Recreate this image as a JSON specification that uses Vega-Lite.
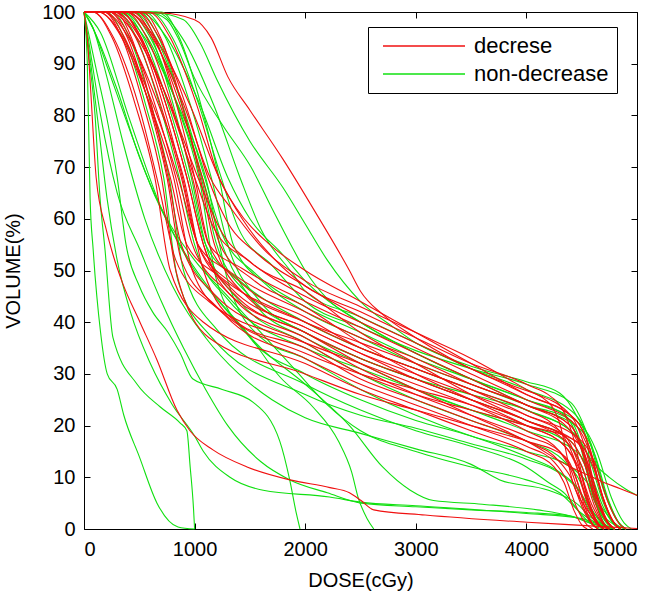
{"$schema":"https://vega.github.io/schema/vega-lite/v6.json","width":553,"height":517,"autosize":{"type":"none"},"padding":{"left":84,"top":12,"right":29,"bottom":70},"background":"white",
"config":{"view":{"stroke":"#000","strokeWidth":1},"font":"Liberation Sans","axis":{"domain":false,"grid":false,"tickColor":"#000","tickWidth":1,"tickSize":6,"offset":-6,"labelColor":"#000","labelFontSize":20,"labelFont":"Liberation Sans","titleFont":"Liberation Sans","titleFontSize":20,"titleFontWeight":"normal","titleColor":"#000"}},
"datasets":{"c":[
{"g":"non-decrease","id":"g1","d":0,"v":100},{"g":"non-decrease","id":"g1","d":30,"v":90},{"g":"non-decrease","id":"g1","d":55,"v":64},{"g":"non-decrease","id":"g1","d":83,"v":54},{"g":"non-decrease","id":"g1","d":150,"v":38},{"g":"non-decrease","id":"g1","d":210,"v":30},{"g":"non-decrease","id":"g1","d":300,"v":27},{"g":"non-decrease","id":"g1","d":360,"v":22},{"g":"non-decrease","id":"g1","d":500,"v":14},{"g":"non-decrease","id":"g1","d":660,"v":5},{"g":"non-decrease","id":"g1","d":850,"v":0.4},{"g":"non-decrease","id":"g1","d":1000,"v":0},
{"g":"non-decrease","id":"g2","d":0,"v":100},{"g":"non-decrease","id":"g2","d":40,"v":92},{"g":"non-decrease","id":"g2","d":100,"v":80},{"g":"non-decrease","id":"g2","d":145,"v":64},{"g":"non-decrease","id":"g2","d":190,"v":54},{"g":"non-decrease","id":"g2","d":262,"v":37},{"g":"non-decrease","id":"g2","d":480,"v":28},{"g":"non-decrease","id":"g2","d":690,"v":23.6},{"g":"non-decrease","id":"g2","d":870,"v":20.5},{"g":"non-decrease","id":"g2","d":930,"v":19},{"g":"non-decrease","id":"g2","d":960,"v":12},{"g":"non-decrease","id":"g2","d":990,"v":4},{"g":"non-decrease","id":"g2","d":1000,"v":0},
{"g":"non-decrease","id":"g3","d":0,"v":100},{"g":"non-decrease","id":"g3","d":40,"v":96},{"g":"non-decrease","id":"g3","d":120,"v":88},{"g":"non-decrease","id":"g3","d":220,"v":78},{"g":"non-decrease","id":"g3","d":300,"v":68},{"g":"non-decrease","id":"g3","d":380,"v":55},{"g":"non-decrease","id":"g3","d":500,"v":47},{"g":"non-decrease","id":"g3","d":620,"v":42},{"g":"non-decrease","id":"g3","d":760,"v":38},{"g":"non-decrease","id":"g3","d":870,"v":34},{"g":"non-decrease","id":"g3","d":985,"v":29},{"g":"non-decrease","id":"g3","d":1250,"v":27},{"g":"non-decrease","id":"g3","d":1530,"v":24.5},{"g":"non-decrease","id":"g3","d":1770,"v":17},{"g":"non-decrease","id":"g3","d":1860,"v":9.5},{"g":"non-decrease","id":"g3","d":1920,"v":3},{"g":"non-decrease","id":"g3","d":1953,"v":0},
{"g":"non-decrease","id":"g4","d":0,"v":100},{"g":"non-decrease","id":"g4","d":80,"v":97},{"g":"non-decrease","id":"g4","d":200,"v":90},{"g":"non-decrease","id":"g4","d":400,"v":78},{"g":"non-decrease","id":"g4","d":650,"v":64},{"g":"non-decrease","id":"g4","d":895,"v":54},{"g":"non-decrease","id":"g4","d":1166,"v":45.6},{"g":"non-decrease","id":"g4","d":1474,"v":38},{"g":"non-decrease","id":"g4","d":1772,"v":29.4},{"g":"non-decrease","id":"g4","d":2070,"v":23.6},{"g":"non-decrease","id":"g4","d":2300,"v":17},{"g":"non-decrease","id":"g4","d":2420,"v":11},{"g":"non-decrease","id":"g4","d":2480,"v":6},{"g":"non-decrease","id":"g4","d":2560,"v":2},{"g":"non-decrease","id":"g4","d":2620,"v":0},
{"g":"non-decrease","id":"g6","d":0,"v":100},{"g":"non-decrease","id":"g6","d":350,"v":100},{"g":"non-decrease","id":"g6","d":538,"v":95},{"g":"non-decrease","id":"g6","d":763,"v":82},{"g":"non-decrease","id":"g6","d":950,"v":68},{"g":"non-decrease","id":"g6","d":1100,"v":55},{"g":"non-decrease","id":"g6","d":1400,"v":48.2},{"g":"non-decrease","id":"g6","d":2000,"v":40},{"g":"non-decrease","id":"g6","d":2500,"v":35},{"g":"non-decrease","id":"g6","d":3000,"v":31},{"g":"non-decrease","id":"g6","d":3500,"v":27},{"g":"non-decrease","id":"g6","d":4000,"v":23},{"g":"non-decrease","id":"g6","d":4450,"v":18},{"g":"non-decrease","id":"g6","d":4570,"v":13.5},{"g":"non-decrease","id":"g6","d":4690,"v":5.4},{"g":"non-decrease","id":"g6","d":4790,"v":1.1},{"g":"non-decrease","id":"g6","d":4850,"v":0},
{"g":"non-decrease","id":"g7","d":0,"v":100},{"g":"non-decrease","id":"g7","d":450,"v":100},{"g":"non-decrease","id":"g7","d":650,"v":95},{"g":"non-decrease","id":"g7","d":890,"v":82},{"g":"non-decrease","id":"g7","d":1090,"v":68},{"g":"non-decrease","id":"g7","d":1250,"v":57},{"g":"non-decrease","id":"g7","d":1550,"v":49.4},{"g":"non-decrease","id":"g7","d":2000,"v":43},{"g":"non-decrease","id":"g7","d":2500,"v":38},{"g":"non-decrease","id":"g7","d":3000,"v":33},{"g":"non-decrease","id":"g7","d":3500,"v":29},{"g":"non-decrease","id":"g7","d":4000,"v":25},{"g":"non-decrease","id":"g7","d":4500,"v":20},{"g":"non-decrease","id":"g7","d":4635,"v":15},{"g":"non-decrease","id":"g7","d":4770,"v":6},{"g":"non-decrease","id":"g7","d":4883,"v":1.2},{"g":"non-decrease","id":"g7","d":4950,"v":0},
{"g":"non-decrease","id":"g8","d":0,"v":100},{"g":"non-decrease","id":"g8","d":550,"v":100},{"g":"non-decrease","id":"g8","d":738,"v":95},{"g":"non-decrease","id":"g8","d":963,"v":82},{"g":"non-decrease","id":"g8","d":1150,"v":68},{"g":"non-decrease","id":"g8","d":1300,"v":55},{"g":"non-decrease","id":"g8","d":1600,"v":43.8},{"g":"non-decrease","id":"g8","d":2000,"v":38},{"g":"non-decrease","id":"g8","d":2500,"v":33},{"g":"non-decrease","id":"g8","d":3000,"v":29},{"g":"non-decrease","id":"g8","d":3500,"v":25},{"g":"non-decrease","id":"g8","d":4000,"v":21},{"g":"non-decrease","id":"g8","d":4400,"v":17},{"g":"non-decrease","id":"g8","d":4520,"v":12.8},{"g":"non-decrease","id":"g8","d":4640,"v":5.1},{"g":"non-decrease","id":"g8","d":4740,"v":1},{"g":"non-decrease","id":"g8","d":4800,"v":0},
{"g":"non-decrease","id":"g9","d":0,"v":100},{"g":"non-decrease","id":"g9","d":300,"v":100},{"g":"non-decrease","id":"g9","d":475,"v":95},{"g":"non-decrease","id":"g9","d":685,"v":82},{"g":"non-decrease","id":"g9","d":860,"v":68},{"g":"non-decrease","id":"g9","d":1000,"v":55},{"g":"non-decrease","id":"g9","d":1300,"v":44.4},{"g":"non-decrease","id":"g9","d":2000,"v":35},{"g":"non-decrease","id":"g9","d":2500,"v":31},{"g":"non-decrease","id":"g9","d":3000,"v":27},{"g":"non-decrease","id":"g9","d":3500,"v":23},{"g":"non-decrease","id":"g9","d":4000,"v":19},{"g":"non-decrease","id":"g9","d":4450,"v":15},{"g":"non-decrease","id":"g9","d":4570,"v":11.3},{"g":"non-decrease","id":"g9","d":4690,"v":4.5},{"g":"non-decrease","id":"g9","d":4790,"v":0.9},{"g":"non-decrease","id":"g9","d":4850,"v":0},
{"g":"non-decrease","id":"g10","d":0,"v":100},{"g":"non-decrease","id":"g10","d":600,"v":100},{"g":"non-decrease","id":"g10","d":800,"v":95},{"g":"non-decrease","id":"g10","d":1040,"v":82},{"g":"non-decrease","id":"g10","d":1240,"v":68},{"g":"non-decrease","id":"g10","d":1400,"v":58},{"g":"non-decrease","id":"g10","d":1700,"v":51},{"g":"non-decrease","id":"g10","d":2000,"v":44},{"g":"non-decrease","id":"g10","d":2500,"v":39},{"g":"non-decrease","id":"g10","d":3000,"v":34.5},{"g":"non-decrease","id":"g10","d":3500,"v":31},{"g":"non-decrease","id":"g10","d":4000,"v":28},{"g":"non-decrease","id":"g10","d":4400,"v":24.5},{"g":"non-decrease","id":"g10","d":4550,"v":18.4},{"g":"non-decrease","id":"g10","d":4700,"v":7.4},{"g":"non-decrease","id":"g10","d":4825,"v":1.5},{"g":"non-decrease","id":"g10","d":4900,"v":0},
{"g":"non-decrease","id":"g11","d":0,"v":100},{"g":"non-decrease","id":"g11","d":400,"v":100},{"g":"non-decrease","id":"g11","d":600,"v":95},{"g":"non-decrease","id":"g11","d":840,"v":82},{"g":"non-decrease","id":"g11","d":1040,"v":68},{"g":"non-decrease","id":"g11","d":1200,"v":48},{"g":"non-decrease","id":"g11","d":1500,"v":37},{"g":"non-decrease","id":"g11","d":2000,"v":30},{"g":"non-decrease","id":"g11","d":2500,"v":25},{"g":"non-decrease","id":"g11","d":3000,"v":21},{"g":"non-decrease","id":"g11","d":3500,"v":18},{"g":"non-decrease","id":"g11","d":4000,"v":14},{"g":"non-decrease","id":"g11","d":4300,"v":11},{"g":"non-decrease","id":"g11","d":4450,"v":8.3},{"g":"non-decrease","id":"g11","d":4600,"v":3.3},{"g":"non-decrease","id":"g11","d":4725,"v":0.7},{"g":"non-decrease","id":"g11","d":4800,"v":0},
{"g":"non-decrease","id":"g12","d":0,"v":100},{"g":"non-decrease","id":"g12","d":500,"v":100},{"g":"non-decrease","id":"g12","d":750,"v":95},{"g":"non-decrease","id":"g12","d":1050,"v":82},{"g":"non-decrease","id":"g12","d":1300,"v":68},{"g":"non-decrease","id":"g12","d":1500,"v":60},{"g":"non-decrease","id":"g12","d":1800,"v":53},{"g":"non-decrease","id":"g12","d":2000,"v":48},{"g":"non-decrease","id":"g12","d":2500,"v":40},{"g":"non-decrease","id":"g12","d":3000,"v":34},{"g":"non-decrease","id":"g12","d":3500,"v":29},{"g":"non-decrease","id":"g12","d":4000,"v":24},{"g":"non-decrease","id":"g12","d":4500,"v":19},{"g":"non-decrease","id":"g12","d":4620,"v":14.3},{"g":"non-decrease","id":"g12","d":4740,"v":5.7},{"g":"non-decrease","id":"g12","d":4840,"v":1.1},{"g":"non-decrease","id":"g12","d":4900,"v":0},
{"g":"non-decrease","id":"g13","d":0,"v":100},{"g":"non-decrease","id":"g13","d":250,"v":100},{"g":"non-decrease","id":"g13","d":413,"v":95},{"g":"non-decrease","id":"g13","d":608,"v":82},{"g":"non-decrease","id":"g13","d":770,"v":68},{"g":"non-decrease","id":"g13","d":900,"v":50},{"g":"non-decrease","id":"g13","d":1200,"v":38.6},{"g":"non-decrease","id":"g13","d":2000,"v":28},{"g":"non-decrease","id":"g13","d":2500,"v":23},{"g":"non-decrease","id":"g13","d":3000,"v":19},{"g":"non-decrease","id":"g13","d":3500,"v":16},{"g":"non-decrease","id":"g13","d":4000,"v":12},{"g":"non-decrease","id":"g13","d":4200,"v":9},{"g":"non-decrease","id":"g13","d":4350,"v":6.8},{"g":"non-decrease","id":"g13","d":4500,"v":2.7},{"g":"non-decrease","id":"g13","d":4625,"v":0.5},{"g":"non-decrease","id":"g13","d":4700,"v":0},
{"g":"non-decrease","id":"g14","d":0,"v":100},{"g":"non-decrease","id":"g14","d":700,"v":100},{"g":"non-decrease","id":"g14","d":863,"v":95},{"g":"non-decrease","id":"g14","d":1058,"v":82},{"g":"non-decrease","id":"g14","d":1220,"v":68},{"g":"non-decrease","id":"g14","d":1350,"v":55},{"g":"non-decrease","id":"g14","d":1650,"v":47.2},{"g":"non-decrease","id":"g14","d":2000,"v":42},{"g":"non-decrease","id":"g14","d":2500,"v":37},{"g":"non-decrease","id":"g14","d":3000,"v":32},{"g":"non-decrease","id":"g14","d":3500,"v":28},{"g":"non-decrease","id":"g14","d":4000,"v":24},{"g":"non-decrease","id":"g14","d":4400,"v":21},{"g":"non-decrease","id":"g14","d":4505,"v":15.8},{"g":"non-decrease","id":"g14","d":4610,"v":6.3},{"g":"non-decrease","id":"g14","d":4698,"v":1.3},{"g":"non-decrease","id":"g14","d":4750,"v":0},
{"g":"non-decrease","id":"g15","d":0,"v":100},{"g":"non-decrease","id":"g15","d":450,"v":100},{"g":"non-decrease","id":"g15","d":613,"v":95},{"g":"non-decrease","id":"g15","d":808,"v":82},{"g":"non-decrease","id":"g15","d":970,"v":68},{"g":"non-decrease","id":"g15","d":1100,"v":55},{"g":"non-decrease","id":"g15","d":1400,"v":44.2},{"g":"non-decrease","id":"g15","d":2000,"v":36},{"g":"non-decrease","id":"g15","d":2500,"v":30},{"g":"non-decrease","id":"g15","d":3000,"v":25},{"g":"non-decrease","id":"g15","d":3500,"v":21},{"g":"non-decrease","id":"g15","d":4000,"v":17},{"g":"non-decrease","id":"g15","d":4350,"v":13},{"g":"non-decrease","id":"g15","d":4470,"v":9.8},{"g":"non-decrease","id":"g15","d":4590,"v":3.9},{"g":"non-decrease","id":"g15","d":4690,"v":0.8},{"g":"non-decrease","id":"g15","d":4750,"v":0},
{"g":"non-decrease","id":"g16","d":0,"v":100},{"g":"non-decrease","id":"g16","d":300,"v":100},{"g":"non-decrease","id":"g16","d":550,"v":95},{"g":"non-decrease","id":"g16","d":850,"v":82},{"g":"non-decrease","id":"g16","d":1100,"v":68},{"g":"non-decrease","id":"g16","d":1300,"v":48},{"g":"non-decrease","id":"g16","d":1600,"v":37},{"g":"non-decrease","id":"g16","d":2000,"v":33},{"g":"non-decrease","id":"g16","d":2500,"v":27},{"g":"non-decrease","id":"g16","d":3000,"v":22},{"g":"non-decrease","id":"g16","d":3500,"v":18},{"g":"non-decrease","id":"g16","d":4000,"v":15},{"g":"non-decrease","id":"g16","d":4400,"v":12},{"g":"non-decrease","id":"g16","d":4550,"v":9},{"g":"non-decrease","id":"g16","d":4700,"v":3.6},{"g":"non-decrease","id":"g16","d":4825,"v":0.7},{"g":"non-decrease","id":"g16","d":4900,"v":0},
{"g":"non-decrease","id":"g17","d":0,"v":100},{"g":"non-decrease","id":"g17","d":500,"v":100},{"g":"non-decrease","id":"g17","d":675,"v":95},{"g":"non-decrease","id":"g17","d":885,"v":82},{"g":"non-decrease","id":"g17","d":1060,"v":68},{"g":"non-decrease","id":"g17","d":1200,"v":55},{"g":"non-decrease","id":"g17","d":1500,"v":45},{"g":"non-decrease","id":"g17","d":2000,"v":38},{"g":"non-decrease","id":"g17","d":2500,"v":33},{"g":"non-decrease","id":"g17","d":3000,"v":29},{"g":"non-decrease","id":"g17","d":3500,"v":26},{"g":"non-decrease","id":"g17","d":4000,"v":23},{"g":"non-decrease","id":"g17","d":4450,"v":18},{"g":"non-decrease","id":"g17","d":4600,"v":13},{"g":"non-decrease","id":"g17","d":4750,"v":10},{"g":"non-decrease","id":"g17","d":4900,"v":7.7},{"g":"non-decrease","id":"g17","d":5000,"v":6.5},
{"g":"non-decrease","id":"g18","d":0,"v":100},{"g":"non-decrease","id":"g18","d":650,"v":99.8},{"g":"non-decrease","id":"g18","d":900,"v":98.5},{"g":"non-decrease","id":"g18","d":1050,"v":94},{"g":"non-decrease","id":"g18","d":1200,"v":87},{"g":"non-decrease","id":"g18","d":1500,"v":75},{"g":"non-decrease","id":"g18","d":1800,"v":66},{"g":"non-decrease","id":"g18","d":2000,"v":59},{"g":"non-decrease","id":"g18","d":2200,"v":52},{"g":"non-decrease","id":"g18","d":2500,"v":44},{"g":"non-decrease","id":"g18","d":2800,"v":39},{"g":"non-decrease","id":"g18","d":3000,"v":36},{"g":"non-decrease","id":"g18","d":3500,"v":31.5},{"g":"non-decrease","id":"g18","d":4000,"v":28.5},{"g":"non-decrease","id":"g18","d":4300,"v":26.3},{"g":"non-decrease","id":"g18","d":4450,"v":22},{"g":"non-decrease","id":"g18","d":4548,"v":17},{"g":"non-decrease","id":"g18","d":4602,"v":7.5},{"g":"non-decrease","id":"g18","d":4700,"v":2.5},{"g":"non-decrease","id":"g18","d":4783,"v":1},{"g":"non-decrease","id":"g18","d":4900,"v":0},
{"g":"non-decrease","id":"g19","d":0,"v":100},{"g":"non-decrease","id":"g19","d":100,"v":96},{"g":"non-decrease","id":"g19","d":300,"v":85},{"g":"non-decrease","id":"g19","d":500,"v":72},{"g":"non-decrease","id":"g19","d":700,"v":62},{"g":"non-decrease","id":"g19","d":1000,"v":52},{"g":"non-decrease","id":"g19","d":1300,"v":45},{"g":"non-decrease","id":"g19","d":1600,"v":38},{"g":"non-decrease","id":"g19","d":1900,"v":31},{"g":"non-decrease","id":"g19","d":2200,"v":24},{"g":"non-decrease","id":"g19","d":2500,"v":19},{"g":"non-decrease","id":"g19","d":3000,"v":15},{"g":"non-decrease","id":"g19","d":3500,"v":12},{"g":"non-decrease","id":"g19","d":4000,"v":9.5},{"g":"non-decrease","id":"g19","d":4300,"v":7},{"g":"non-decrease","id":"g19","d":4500,"v":3},{"g":"non-decrease","id":"g19","d":4700,"v":0.5},{"g":"non-decrease","id":"g19","d":4800,"v":0},
{"g":"non-decrease","id":"g21","d":0,"v":100},{"g":"non-decrease","id":"g21","d":50,"v":92},{"g":"non-decrease","id":"g21","d":130,"v":78},{"g":"non-decrease","id":"g21","d":208,"v":64},{"g":"non-decrease","id":"g21","d":300,"v":52},{"g":"non-decrease","id":"g21","d":420,"v":42},{"g":"non-decrease","id":"g21","d":600,"v":32},{"g":"non-decrease","id":"g21","d":800,"v":24},{"g":"non-decrease","id":"g21","d":1000,"v":18},{"g":"non-decrease","id":"g21","d":1080,"v":15},{"g":"non-decrease","id":"g21","d":1320,"v":10},{"g":"non-decrease","id":"g21","d":1620,"v":7.5},{"g":"non-decrease","id":"g21","d":2220,"v":6.2},{"g":"non-decrease","id":"g21","d":2500,"v":5.2},{"g":"non-decrease","id":"g21","d":3000,"v":4.5},{"g":"non-decrease","id":"g21","d":4000,"v":3},{"g":"non-decrease","id":"g21","d":4500,"v":2},{"g":"non-decrease","id":"g21","d":4700,"v":0.5},{"g":"non-decrease","id":"g21","d":4800,"v":0},
{"g":"non-decrease","id":"g23","d":0,"v":100},{"g":"non-decrease","id":"g23","d":60,"v":92},{"g":"non-decrease","id":"g23","d":150,"v":80},{"g":"non-decrease","id":"g23","d":300,"v":65},{"g":"non-decrease","id":"g23","d":506,"v":54},{"g":"non-decrease","id":"g23","d":700,"v":44},{"g":"non-decrease","id":"g23","d":900,"v":35},{"g":"non-decrease","id":"g23","d":1100,"v":27},{"g":"non-decrease","id":"g23","d":1300,"v":20},{"g":"non-decrease","id":"g23","d":1600,"v":13},{"g":"non-decrease","id":"g23","d":1862,"v":9.5},{"g":"non-decrease","id":"g23","d":2200,"v":7},{"g":"non-decrease","id":"g23","d":2505,"v":5},{"g":"non-decrease","id":"g23","d":3000,"v":4.3},{"g":"non-decrease","id":"g23","d":3500,"v":3.7},{"g":"non-decrease","id":"g23","d":4000,"v":3.2},{"g":"non-decrease","id":"g23","d":4400,"v":2.5},{"g":"non-decrease","id":"g23","d":4600,"v":1},{"g":"non-decrease","id":"g23","d":4800,"v":0},
{"g":"non-decrease","id":"g24","d":0,"v":100},{"g":"non-decrease","id":"g24","d":200,"v":100},{"g":"non-decrease","id":"g24","d":363,"v":95},{"g":"non-decrease","id":"g24","d":558,"v":82},{"g":"non-decrease","id":"g24","d":720,"v":68},{"g":"non-decrease","id":"g24","d":850,"v":48},{"g":"non-decrease","id":"g24","d":1150,"v":37.2},{"g":"non-decrease","id":"g24","d":2000,"v":26},{"g":"non-decrease","id":"g24","d":2500,"v":22},{"g":"non-decrease","id":"g24","d":3000,"v":19.5},{"g":"non-decrease","id":"g24","d":3500,"v":16.5},{"g":"non-decrease","id":"g24","d":4000,"v":13.5},{"g":"non-decrease","id":"g24","d":4350,"v":10},{"g":"non-decrease","id":"g24","d":4470,"v":7.5},{"g":"non-decrease","id":"g24","d":4590,"v":3},{"g":"non-decrease","id":"g24","d":4690,"v":0.6},{"g":"non-decrease","id":"g24","d":4750,"v":0},
{"g":"non-decrease","id":"g25","d":0,"v":100},{"g":"non-decrease","id":"g25","d":80,"v":97},{"g":"non-decrease","id":"g25","d":200,"v":88},{"g":"non-decrease","id":"g25","d":350,"v":75},{"g":"non-decrease","id":"g25","d":550,"v":60},{"g":"non-decrease","id":"g25","d":800,"v":47},{"g":"non-decrease","id":"g25","d":1100,"v":37},{"g":"non-decrease","id":"g25","d":1400,"v":30},{"g":"non-decrease","id":"g25","d":1700,"v":25},{"g":"non-decrease","id":"g25","d":2000,"v":21.5},{"g":"non-decrease","id":"g25","d":2500,"v":18.5},{"g":"non-decrease","id":"g25","d":3000,"v":15.5},{"g":"non-decrease","id":"g25","d":3500,"v":12.5},{"g":"non-decrease","id":"g25","d":3760,"v":9.5},{"g":"non-decrease","id":"g25","d":4200,"v":7.5},{"g":"non-decrease","id":"g25","d":4450,"v":5},{"g":"non-decrease","id":"g25","d":4600,"v":2},{"g":"non-decrease","id":"g25","d":4800,"v":0},
{"g":"non-decrease","id":"g26","d":0,"v":100},{"g":"non-decrease","id":"g26","d":150,"v":96},{"g":"non-decrease","id":"g26","d":400,"v":80},{"g":"non-decrease","id":"g26","d":700,"v":62},{"g":"non-decrease","id":"g26","d":1000,"v":50},{"g":"non-decrease","id":"g26","d":1300,"v":42},{"g":"non-decrease","id":"g26","d":1600,"v":35},{"g":"non-decrease","id":"g26","d":2000,"v":28},{"g":"non-decrease","id":"g26","d":2400,"v":20},{"g":"non-decrease","id":"g26","d":2700,"v":12},{"g":"non-decrease","id":"g26","d":2950,"v":7.5},{"g":"non-decrease","id":"g26","d":3160,"v":5.5},{"g":"non-decrease","id":"g26","d":3600,"v":4.8},{"g":"non-decrease","id":"g26","d":4100,"v":3.7},{"g":"non-decrease","id":"g26","d":4400,"v":2.5},{"g":"non-decrease","id":"g26","d":4600,"v":1},{"g":"non-decrease","id":"g26","d":4800,"v":0},
{"g":"non-decrease","id":"g28","d":0,"v":100},{"g":"non-decrease","id":"g28","d":650,"v":100},{"g":"non-decrease","id":"g28","d":888,"v":95},{"g":"non-decrease","id":"g28","d":1173,"v":82},{"g":"non-decrease","id":"g28","d":1410,"v":68},{"g":"non-decrease","id":"g28","d":1600,"v":58},{"g":"non-decrease","id":"g28","d":1900,"v":49},{"g":"non-decrease","id":"g28","d":2000,"v":46},{"g":"non-decrease","id":"g28","d":2500,"v":41},{"g":"non-decrease","id":"g28","d":3000,"v":36},{"g":"non-decrease","id":"g28","d":3500,"v":31},{"g":"non-decrease","id":"g28","d":4000,"v":27},{"g":"non-decrease","id":"g28","d":4450,"v":22},{"g":"non-decrease","id":"g28","d":4585,"v":16.5},{"g":"non-decrease","id":"g28","d":4720,"v":6.6},{"g":"non-decrease","id":"g28","d":4833,"v":1.3},{"g":"non-decrease","id":"g28","d":4900,"v":0},
{"g":"non-decrease","id":"g29","d":0,"v":100},{"g":"non-decrease","id":"g29","d":350,"v":100},{"g":"non-decrease","id":"g29","d":575,"v":95},{"g":"non-decrease","id":"g29","d":845,"v":82},{"g":"non-decrease","id":"g29","d":1070,"v":68},{"g":"non-decrease","id":"g29","d":1250,"v":55},{"g":"non-decrease","id":"g29","d":1550,"v":43.4},{"g":"non-decrease","id":"g29","d":2000,"v":37},{"g":"non-decrease","id":"g29","d":2500,"v":32},{"g":"non-decrease","id":"g29","d":3000,"v":27},{"g":"non-decrease","id":"g29","d":3500,"v":23},{"g":"non-decrease","id":"g29","d":4000,"v":20},{"g":"non-decrease","id":"g29","d":4350,"v":17},{"g":"non-decrease","id":"g29","d":4485,"v":12.8},{"g":"non-decrease","id":"g29","d":4620,"v":5.1},{"g":"non-decrease","id":"g29","d":4733,"v":1},{"g":"non-decrease","id":"g29","d":4800,"v":0},
{"g":"non-decrease","id":"g30","d":0,"v":100},{"g":"non-decrease","id":"g30","d":600,"v":99.8},{"g":"non-decrease","id":"g30","d":750,"v":98.5},{"g":"non-decrease","id":"g30","d":850,"v":95},{"g":"non-decrease","id":"g30","d":995,"v":87.4},{"g":"non-decrease","id":"g30","d":1266,"v":77.7},{"g":"non-decrease","id":"g30","d":1510,"v":70},{"g":"non-decrease","id":"g30","d":1700,"v":62},{"g":"non-decrease","id":"g30","d":1870,"v":55},{"g":"non-decrease","id":"g30","d":2000,"v":50},{"g":"non-decrease","id":"g30","d":2200,"v":44.5},{"g":"non-decrease","id":"g30","d":2500,"v":40},{"g":"non-decrease","id":"g30","d":3000,"v":34},{"g":"non-decrease","id":"g30","d":3500,"v":29},{"g":"non-decrease","id":"g30","d":4000,"v":25},{"g":"non-decrease","id":"g30","d":4350,"v":22},{"g":"non-decrease","id":"g30","d":4480,"v":16.5},{"g":"non-decrease","id":"g30","d":4600,"v":6.6},{"g":"non-decrease","id":"g30","d":4720,"v":1.3},{"g":"non-decrease","id":"g30","d":4800,"v":0},
{"g":"decrese","id":"r1","d":0,"v":100},{"g":"decrese","id":"r1","d":30,"v":95},{"g":"decrese","id":"r1","d":60,"v":85},{"g":"decrese","id":"r1","d":110,"v":68},{"g":"decrese","id":"r1","d":200,"v":58},{"g":"decrese","id":"r1","d":263,"v":53},{"g":"decrese","id":"r1","d":350,"v":47.5},{"g":"decrese","id":"r1","d":506,"v":40},{"g":"decrese","id":"r1","d":660,"v":32.7},{"g":"decrese","id":"r1","d":840,"v":23},{"g":"decrese","id":"r1","d":958,"v":19},{"g":"decrese","id":"r1","d":1166,"v":15.3},{"g":"decrese","id":"r1","d":1474,"v":12},{"g":"decrese","id":"r1","d":1862,"v":9.5},{"g":"decrese","id":"r1","d":2224,"v":8},{"g":"decrese","id":"r1","d":2400,"v":7},{"g":"decrese","id":"r1","d":2505,"v":5.5},{"g":"decrese","id":"r1","d":2620,"v":3.7},{"g":"decrese","id":"r1","d":3084,"v":2.7},{"g":"decrese","id":"r1","d":4010,"v":1.3},{"g":"decrese","id":"r1","d":4500,"v":0.7},{"g":"decrese","id":"r1","d":5000,"v":0.1},
{"g":"decrese","id":"r2","d":0,"v":100},{"g":"decrese","id":"r2","d":700,"v":99.8},{"g":"decrese","id":"r2","d":1000,"v":98.5},{"g":"decrese","id":"r2","d":1150,"v":95},{"g":"decrese","id":"r2","d":1300,"v":87.5},{"g":"decrese","id":"r2","d":1500,"v":81},{"g":"decrese","id":"r2","d":1800,"v":71.5},{"g":"decrese","id":"r2","d":2100,"v":61},{"g":"decrese","id":"r2","d":2400,"v":50},{"g":"decrese","id":"r2","d":2500,"v":46},{"g":"decrese","id":"r2","d":2700,"v":41.5},{"g":"decrese","id":"r2","d":3000,"v":37},{"g":"decrese","id":"r2","d":3600,"v":30},{"g":"decrese","id":"r2","d":3900,"v":27.5},{"g":"decrese","id":"r2","d":4200,"v":24.5},{"g":"decrese","id":"r2","d":4300,"v":20.5},{"g":"decrese","id":"r2","d":4420,"v":9},{"g":"decrese","id":"r2","d":4550,"v":3.7},{"g":"decrese","id":"r2","d":4670,"v":0.5},{"g":"decrese","id":"r2","d":4750,"v":0},
{"g":"decrese","id":"r3","d":0,"v":100},{"g":"decrese","id":"r3","d":80,"v":100},{"g":"decrese","id":"r3","d":268,"v":95},{"g":"decrese","id":"r3","d":493,"v":82},{"g":"decrese","id":"r3","d":680,"v":66},{"g":"decrese","id":"r3","d":830,"v":52},{"g":"decrese","id":"r3","d":1130,"v":44},{"g":"decrese","id":"r3","d":2000,"v":36},{"g":"decrese","id":"r3","d":2500,"v":32},{"g":"decrese","id":"r3","d":3000,"v":28},{"g":"decrese","id":"r3","d":3500,"v":24},{"g":"decrese","id":"r3","d":4000,"v":19},{"g":"decrese","id":"r3","d":4300,"v":15},{"g":"decrese","id":"r3","d":4405,"v":11.3},{"g":"decrese","id":"r3","d":4510,"v":4.5},{"g":"decrese","id":"r3","d":4598,"v":0.9},{"g":"decrese","id":"r3","d":4650,"v":0},
{"g":"decrese","id":"r4","d":0,"v":100},{"g":"decrese","id":"r4","d":180,"v":100},{"g":"decrese","id":"r4","d":368,"v":95},{"g":"decrese","id":"r4","d":593,"v":82},{"g":"decrese","id":"r4","d":780,"v":68},{"g":"decrese","id":"r4","d":930,"v":55},{"g":"decrese","id":"r4","d":1230,"v":48.8},{"g":"decrese","id":"r4","d":2000,"v":40},{"g":"decrese","id":"r4","d":2500,"v":35},{"g":"decrese","id":"r4","d":3000,"v":31},{"g":"decrese","id":"r4","d":3500,"v":27},{"g":"decrese","id":"r4","d":4000,"v":22},{"g":"decrese","id":"r4","d":4350,"v":18},{"g":"decrese","id":"r4","d":4455,"v":13.5},{"g":"decrese","id":"r4","d":4560,"v":5.4},{"g":"decrese","id":"r4","d":4648,"v":1.1},{"g":"decrese","id":"r4","d":4700,"v":0},
{"g":"decrese","id":"r5","d":0,"v":100},{"g":"decrese","id":"r5","d":230,"v":100},{"g":"decrese","id":"r5","d":418,"v":95},{"g":"decrese","id":"r5","d":643,"v":82},{"g":"decrese","id":"r5","d":830,"v":68},{"g":"decrese","id":"r5","d":980,"v":55},{"g":"decrese","id":"r5","d":1280,"v":46.2},{"g":"decrese","id":"r5","d":2000,"v":38},{"g":"decrese","id":"r5","d":2500,"v":33},{"g":"decrese","id":"r5","d":3000,"v":29},{"g":"decrese","id":"r5","d":3500,"v":25},{"g":"decrese","id":"r5","d":4000,"v":21},{"g":"decrese","id":"r5","d":4400,"v":16},{"g":"decrese","id":"r5","d":4505,"v":12},{"g":"decrese","id":"r5","d":4610,"v":4.8},{"g":"decrese","id":"r5","d":4698,"v":1},{"g":"decrese","id":"r5","d":4750,"v":0},
{"g":"decrese","id":"r6","d":0,"v":100},{"g":"decrese","id":"r6","d":280,"v":100},{"g":"decrese","id":"r6","d":468,"v":95},{"g":"decrese","id":"r6","d":693,"v":82},{"g":"decrese","id":"r6","d":880,"v":68},{"g":"decrese","id":"r6","d":1030,"v":55},{"g":"decrese","id":"r6","d":1330,"v":49.6},{"g":"decrese","id":"r6","d":2000,"v":42},{"g":"decrese","id":"r6","d":2500,"v":37},{"g":"decrese","id":"r6","d":3000,"v":33},{"g":"decrese","id":"r6","d":3500,"v":28},{"g":"decrese","id":"r6","d":4000,"v":24},{"g":"decrese","id":"r6","d":4400,"v":19},{"g":"decrese","id":"r6","d":4520,"v":14.3},{"g":"decrese","id":"r6","d":4640,"v":5.7},{"g":"decrese","id":"r6","d":4740,"v":1.1},{"g":"decrese","id":"r6","d":4800,"v":0},
{"g":"decrese","id":"r7","d":0,"v":100},{"g":"decrese","id":"r7","d":330,"v":100},{"g":"decrese","id":"r7","d":518,"v":95},{"g":"decrese","id":"r7","d":743,"v":82},{"g":"decrese","id":"r7","d":930,"v":68},{"g":"decrese","id":"r7","d":1080,"v":55},{"g":"decrese","id":"r7","d":1380,"v":44},{"g":"decrese","id":"r7","d":2000,"v":37},{"g":"decrese","id":"r7","d":2500,"v":31},{"g":"decrese","id":"r7","d":3000,"v":26},{"g":"decrese","id":"r7","d":3500,"v":22},{"g":"decrese","id":"r7","d":4000,"v":18},{"g":"decrese","id":"r7","d":4300,"v":15},{"g":"decrese","id":"r7","d":4420,"v":11.3},{"g":"decrese","id":"r7","d":4540,"v":4.5},{"g":"decrese","id":"r7","d":4640,"v":0.9},{"g":"decrese","id":"r7","d":4700,"v":0},
{"g":"decrese","id":"r8","d":0,"v":100},{"g":"decrese","id":"r8","d":130,"v":100},{"g":"decrese","id":"r8","d":343,"v":95},{"g":"decrese","id":"r8","d":598,"v":82},{"g":"decrese","id":"r8","d":810,"v":68},{"g":"decrese","id":"r8","d":980,"v":50},{"g":"decrese","id":"r8","d":1280,"v":41.2},{"g":"decrese","id":"r8","d":2000,"v":33},{"g":"decrese","id":"r8","d":2500,"v":28},{"g":"decrese","id":"r8","d":3000,"v":24},{"g":"decrese","id":"r8","d":3500,"v":20},{"g":"decrese","id":"r8","d":4000,"v":16},{"g":"decrese","id":"r8","d":4250,"v":13},{"g":"decrese","id":"r8","d":4355,"v":9.8},{"g":"decrese","id":"r8","d":4460,"v":3.9},{"g":"decrese","id":"r8","d":4548,"v":0.8},{"g":"decrese","id":"r8","d":4600,"v":0},
{"g":"decrese","id":"r9","d":0,"v":100},{"g":"decrese","id":"r9","d":380,"v":100},{"g":"decrese","id":"r9","d":568,"v":95},{"g":"decrese","id":"r9","d":793,"v":82},{"g":"decrese","id":"r9","d":980,"v":68},{"g":"decrese","id":"r9","d":1130,"v":55},{"g":"decrese","id":"r9","d":1430,"v":50.4},{"g":"decrese","id":"r9","d":2000,"v":44},{"g":"decrese","id":"r9","d":2500,"v":39},{"g":"decrese","id":"r9","d":3000,"v":34},{"g":"decrese","id":"r9","d":3500,"v":29},{"g":"decrese","id":"r9","d":4000,"v":24},{"g":"decrese","id":"r9","d":4400,"v":20},{"g":"decrese","id":"r9","d":4520,"v":15},{"g":"decrese","id":"r9","d":4640,"v":6},{"g":"decrese","id":"r9","d":4740,"v":1.2},{"g":"decrese","id":"r9","d":4800,"v":0},
{"g":"decrese","id":"r10","d":0,"v":100},{"g":"decrese","id":"r10","d":280,"v":100},{"g":"decrese","id":"r10","d":505,"v":95},{"g":"decrese","id":"r10","d":775,"v":82},{"g":"decrese","id":"r10","d":1000,"v":68},{"g":"decrese","id":"r10","d":1180,"v":58},{"g":"decrese","id":"r10","d":1480,"v":52},{"g":"decrese","id":"r10","d":2000,"v":45},{"g":"decrese","id":"r10","d":2500,"v":40},{"g":"decrese","id":"r10","d":3000,"v":35},{"g":"decrese","id":"r10","d":3500,"v":30},{"g":"decrese","id":"r10","d":4000,"v":25},{"g":"decrese","id":"r10","d":4450,"v":20},{"g":"decrese","id":"r10","d":4570,"v":15},{"g":"decrese","id":"r10","d":4690,"v":6},{"g":"decrese","id":"r10","d":4790,"v":1.2},{"g":"decrese","id":"r10","d":4850,"v":0},
{"g":"decrese","id":"r11","d":0,"v":100},{"g":"decrese","id":"r11","d":430,"v":100},{"g":"decrese","id":"r11","d":630,"v":95},{"g":"decrese","id":"r11","d":870,"v":82},{"g":"decrese","id":"r11","d":1070,"v":68},{"g":"decrese","id":"r11","d":1230,"v":55},{"g":"decrese","id":"r11","d":1530,"v":48.2},{"g":"decrese","id":"r11","d":2000,"v":43},{"g":"decrese","id":"r11","d":2500,"v":36},{"g":"decrese","id":"r11","d":3000,"v":30},{"g":"decrese","id":"r11","d":3500,"v":25},{"g":"decrese","id":"r11","d":4000,"v":20},{"g":"decrese","id":"r11","d":4350,"v":16},{"g":"decrese","id":"r11","d":4470,"v":12},{"g":"decrese","id":"r11","d":4590,"v":4.8},{"g":"decrese","id":"r11","d":4690,"v":1},{"g":"decrese","id":"r11","d":4750,"v":0},
{"g":"decrese","id":"r12","d":0,"v":100},{"g":"decrese","id":"r12","d":180,"v":100},{"g":"decrese","id":"r12","d":405,"v":95},{"g":"decrese","id":"r12","d":675,"v":82},{"g":"decrese","id":"r12","d":900,"v":68},{"g":"decrese","id":"r12","d":1080,"v":50},{"g":"decrese","id":"r12","d":1380,"v":40},{"g":"decrese","id":"r12","d":2000,"v":35},{"g":"decrese","id":"r12","d":2500,"v":29},{"g":"decrese","id":"r12","d":3000,"v":25},{"g":"decrese","id":"r12","d":3500,"v":21},{"g":"decrese","id":"r12","d":4000,"v":17},{"g":"decrese","id":"r12","d":4300,"v":13},{"g":"decrese","id":"r12","d":4405,"v":9.8},{"g":"decrese","id":"r12","d":4510,"v":3.9},{"g":"decrese","id":"r12","d":4598,"v":0.8},{"g":"decrese","id":"r12","d":4650,"v":0},
{"g":"decrese","id":"r13","d":0,"v":100},{"g":"decrese","id":"r13","d":480,"v":100},{"g":"decrese","id":"r13","d":680,"v":95},{"g":"decrese","id":"r13","d":920,"v":82},{"g":"decrese","id":"r13","d":1120,"v":68},{"g":"decrese","id":"r13","d":1280,"v":60},{"g":"decrese","id":"r13","d":1580,"v":53},{"g":"decrese","id":"r13","d":2000,"v":47},{"g":"decrese","id":"r13","d":2500,"v":41},{"g":"decrese","id":"r13","d":3000,"v":36},{"g":"decrese","id":"r13","d":3500,"v":31},{"g":"decrese","id":"r13","d":4000,"v":26},{"g":"decrese","id":"r13","d":4450,"v":21},{"g":"decrese","id":"r13","d":4570,"v":15.8},{"g":"decrese","id":"r13","d":4690,"v":6.3},{"g":"decrese","id":"r13","d":4790,"v":1.3},{"g":"decrese","id":"r13","d":4850,"v":0},
{"g":"decrese","id":"r14","d":0,"v":100},{"g":"decrese","id":"r14","d":230,"v":100},{"g":"decrese","id":"r14","d":393,"v":95},{"g":"decrese","id":"r14","d":588,"v":82},{"g":"decrese","id":"r14","d":750,"v":68},{"g":"decrese","id":"r14","d":880,"v":52},{"g":"decrese","id":"r14","d":1180,"v":43.4},{"g":"decrese","id":"r14","d":2000,"v":34},{"g":"decrese","id":"r14","d":2500,"v":30},{"g":"decrese","id":"r14","d":3000,"v":27},{"g":"decrese","id":"r14","d":3500,"v":24},{"g":"decrese","id":"r14","d":4000,"v":20},{"g":"decrese","id":"r14","d":4350,"v":16},{"g":"decrese","id":"r14","d":4455,"v":12},{"g":"decrese","id":"r14","d":4560,"v":4.8},{"g":"decrese","id":"r14","d":4648,"v":1},{"g":"decrese","id":"r14","d":4700,"v":0},
{"g":"decrese","id":"r15","d":0,"v":100},{"g":"decrese","id":"r15","d":330,"v":100},{"g":"decrese","id":"r15","d":505,"v":95},{"g":"decrese","id":"r15","d":715,"v":82},{"g":"decrese","id":"r15","d":890,"v":68},{"g":"decrese","id":"r15","d":1030,"v":55},{"g":"decrese","id":"r15","d":1330,"v":46.6},{"g":"decrese","id":"r15","d":2000,"v":39},{"g":"decrese","id":"r15","d":2500,"v":34},{"g":"decrese","id":"r15","d":3000,"v":30},{"g":"decrese","id":"r15","d":3500,"v":26},{"g":"decrese","id":"r15","d":4000,"v":22},{"g":"decrese","id":"r15","d":4500,"v":17},{"g":"decrese","id":"r15","d":4620,"v":12.8},{"g":"decrese","id":"r15","d":4740,"v":5.1},{"g":"decrese","id":"r15","d":4840,"v":1},{"g":"decrese","id":"r15","d":4900,"v":0},
{"g":"decrese","id":"r16","d":0,"v":100},{"g":"decrese","id":"r16","d":380,"v":100},{"g":"decrese","id":"r16","d":618,"v":95},{"g":"decrese","id":"r16","d":903,"v":82},{"g":"decrese","id":"r16","d":1140,"v":68},{"g":"decrese","id":"r16","d":1330,"v":62},{"g":"decrese","id":"r16","d":1630,"v":54},{"g":"decrese","id":"r16","d":2000,"v":48},{"g":"decrese","id":"r16","d":2500,"v":43},{"g":"decrese","id":"r16","d":3000,"v":38},{"g":"decrese","id":"r16","d":3500,"v":33},{"g":"decrese","id":"r16","d":4000,"v":27},{"g":"decrese","id":"r16","d":4400,"v":22},{"g":"decrese","id":"r16","d":4520,"v":16.5},{"g":"decrese","id":"r16","d":4640,"v":6.6},{"g":"decrese","id":"r16","d":4740,"v":1.3},{"g":"decrese","id":"r16","d":4800,"v":0},
{"g":"decrese","id":"r17","d":0,"v":100},{"g":"decrese","id":"r17","d":80,"v":100},{"g":"decrese","id":"r17","d":255,"v":95},{"g":"decrese","id":"r17","d":465,"v":82},{"g":"decrese","id":"r17","d":640,"v":68},{"g":"decrese","id":"r17","d":780,"v":50},{"g":"decrese","id":"r17","d":1080,"v":40},{"g":"decrese","id":"r17","d":2000,"v":32},{"g":"decrese","id":"r17","d":2500,"v":27},{"g":"decrese","id":"r17","d":3000,"v":23},{"g":"decrese","id":"r17","d":3500,"v":19},{"g":"decrese","id":"r17","d":4000,"v":15},{"g":"decrese","id":"r17","d":4250,"v":12},{"g":"decrese","id":"r17","d":4340,"v":9},{"g":"decrese","id":"r17","d":4430,"v":3.6},{"g":"decrese","id":"r17","d":4505,"v":0.7},{"g":"decrese","id":"r17","d":4550,"v":0},
{"g":"decrese","id":"r18","d":0,"v":100},{"g":"decrese","id":"r18","d":480,"v":100},{"g":"decrese","id":"r18","d":643,"v":95},{"g":"decrese","id":"r18","d":838,"v":82},{"g":"decrese","id":"r18","d":1000,"v":68},{"g":"decrese","id":"r18","d":1130,"v":55},{"g":"decrese","id":"r18","d":1430,"v":47.4},{"g":"decrese","id":"r18","d":2000,"v":41},{"g":"decrese","id":"r18","d":2500,"v":35},{"g":"decrese","id":"r18","d":3000,"v":31},{"g":"decrese","id":"r18","d":3500,"v":27},{"g":"decrese","id":"r18","d":4000,"v":23},{"g":"decrese","id":"r18","d":4300,"v":19},{"g":"decrese","id":"r18","d":4420,"v":14.3},{"g":"decrese","id":"r18","d":4540,"v":5.7},{"g":"decrese","id":"r18","d":4640,"v":1.1},{"g":"decrese","id":"r18","d":4700,"v":0},
{"g":"decrese","id":"r19","d":0,"v":100},{"g":"decrese","id":"r19","d":230,"v":100},{"g":"decrese","id":"r19","d":480,"v":95},{"g":"decrese","id":"r19","d":780,"v":82},{"g":"decrese","id":"r19","d":1030,"v":68},{"g":"decrese","id":"r19","d":1230,"v":58},{"g":"decrese","id":"r19","d":1530,"v":51.2},{"g":"decrese","id":"r19","d":2000,"v":46},{"g":"decrese","id":"r19","d":2500,"v":38},{"g":"decrese","id":"r19","d":3000,"v":32},{"g":"decrese","id":"r19","d":3500,"v":26},{"g":"decrese","id":"r19","d":4000,"v":21},{"g":"decrese","id":"r19","d":4400,"v":17},{"g":"decrese","id":"r19","d":4520,"v":12.8},{"g":"decrese","id":"r19","d":4640,"v":5.1},{"g":"decrese","id":"r19","d":4740,"v":1},{"g":"decrese","id":"r19","d":4800,"v":0},
{"g":"decrese","id":"r20","d":0,"v":100},{"g":"decrese","id":"r20","d":580,"v":100},{"g":"decrese","id":"r20","d":780,"v":95},{"g":"decrese","id":"r20","d":1020,"v":82},{"g":"decrese","id":"r20","d":1220,"v":68},{"g":"decrese","id":"r20","d":1380,"v":62},{"g":"decrese","id":"r20","d":1680,"v":55},{"g":"decrese","id":"r20","d":2000,"v":50},{"g":"decrese","id":"r20","d":2500,"v":44},{"g":"decrese","id":"r20","d":3000,"v":38},{"g":"decrese","id":"r20","d":3500,"v":32},{"g":"decrese","id":"r20","d":4000,"v":26},{"g":"decrese","id":"r20","d":4450,"v":21},{"g":"decrese","id":"r20","d":4570,"v":15.8},{"g":"decrese","id":"r20","d":4690,"v":6.3},{"g":"decrese","id":"r20","d":4790,"v":1.3},{"g":"decrese","id":"r20","d":4850,"v":0},
{"g":"decrese","id":"r21","d":0,"v":100},{"g":"decrese","id":"r21","d":280,"v":100},{"g":"decrese","id":"r21","d":430,"v":95},{"g":"decrese","id":"r21","d":610,"v":82},{"g":"decrese","id":"r21","d":760,"v":68},{"g":"decrese","id":"r21","d":880,"v":55},{"g":"decrese","id":"r21","d":1180,"v":45.4},{"g":"decrese","id":"r21","d":2000,"v":36},{"g":"decrese","id":"r21","d":2500,"v":30},{"g":"decrese","id":"r21","d":3000,"v":26},{"g":"decrese","id":"r21","d":3500,"v":23},{"g":"decrese","id":"r21","d":4000,"v":20},{"g":"decrese","id":"r21","d":4450,"v":17},{"g":"decrese","id":"r21","d":4555,"v":12.8},{"g":"decrese","id":"r21","d":4660,"v":5.1},{"g":"decrese","id":"r21","d":4748,"v":1},{"g":"decrese","id":"r21","d":4800,"v":0},
{"g":"decrese","id":"r22","d":0,"v":100},{"g":"decrese","id":"r22","d":130,"v":100},{"g":"decrese","id":"r22","d":355,"v":95},{"g":"decrese","id":"r22","d":625,"v":82},{"g":"decrese","id":"r22","d":850,"v":68},{"g":"decrese","id":"r22","d":1030,"v":55},{"g":"decrese","id":"r22","d":1330,"v":47.6},{"g":"decrese","id":"r22","d":2000,"v":40},{"g":"decrese","id":"r22","d":2500,"v":36},{"g":"decrese","id":"r22","d":3000,"v":32},{"g":"decrese","id":"r22","d":3500,"v":28},{"g":"decrese","id":"r22","d":4000,"v":24},{"g":"decrese","id":"r22","d":4400,"v":20},{"g":"decrese","id":"r22","d":4505,"v":15},{"g":"decrese","id":"r22","d":4610,"v":6},{"g":"decrese","id":"r22","d":4698,"v":1.2},{"g":"decrese","id":"r22","d":4750,"v":0},
{"g":"decrese","id":"r23","d":0,"v":100},{"g":"decrese","id":"r23","d":330,"v":100},{"g":"decrese","id":"r23","d":518,"v":95},{"g":"decrese","id":"r23","d":743,"v":82},{"g":"decrese","id":"r23","d":930,"v":68},{"g":"decrese","id":"r23","d":1080,"v":55},{"g":"decrese","id":"r23","d":1380,"v":45},{"g":"decrese","id":"r23","d":2000,"v":38},{"g":"decrese","id":"r23","d":2500,"v":32},{"g":"decrese","id":"r23","d":3000,"v":27},{"g":"decrese","id":"r23","d":3500,"v":22},{"g":"decrese","id":"r23","d":4000,"v":17},{"g":"decrese","id":"r23","d":4400,"v":12},{"g":"decrese","id":"r23","d":4550,"v":10.5},{"g":"decrese","id":"r23","d":4700,"v":9},{"g":"decrese","id":"r23","d":4850,"v":7.8},{"g":"decrese","id":"r23","d":5000,"v":6.5},
{"g":"decrese","id":"r24","d":0,"v":100},{"g":"decrese","id":"r24","d":380,"v":100},{"g":"decrese","id":"r24","d":643,"v":95},{"g":"decrese","id":"r24","d":958,"v":82},{"g":"decrese","id":"r24","d":1220,"v":68},{"g":"decrese","id":"r24","d":1430,"v":60},{"g":"decrese","id":"r24","d":1730,"v":52},{"g":"decrese","id":"r24","d":2000,"v":47},{"g":"decrese","id":"r24","d":2500,"v":42},{"g":"decrese","id":"r24","d":3000,"v":37},{"g":"decrese","id":"r24","d":3500,"v":32},{"g":"decrese","id":"r24","d":4000,"v":28},{"g":"decrese","id":"r24","d":4300,"v":24},{"g":"decrese","id":"r24","d":4420,"v":18},{"g":"decrese","id":"r24","d":4540,"v":7.2},{"g":"decrese","id":"r24","d":4640,"v":1.4},{"g":"decrese","id":"r24","d":4700,"v":0},
{"g":"decrese","id":"r25","d":0,"v":100},{"g":"decrese","id":"r25","d":180,"v":100},{"g":"decrese","id":"r25","d":343,"v":95},{"g":"decrese","id":"r25","d":538,"v":82},{"g":"decrese","id":"r25","d":700,"v":68},{"g":"decrese","id":"r25","d":830,"v":50},{"g":"decrese","id":"r25","d":1130,"v":37},{"g":"decrese","id":"r25","d":2000,"v":30},{"g":"decrese","id":"r25","d":2500,"v":26},{"g":"decrese","id":"r25","d":3000,"v":23},{"g":"decrese","id":"r25","d":3500,"v":20},{"g":"decrese","id":"r25","d":4000,"v":17},{"g":"decrese","id":"r25","d":4350,"v":14},{"g":"decrese","id":"r25","d":4440,"v":10.5},{"g":"decrese","id":"r25","d":4530,"v":4.2},{"g":"decrese","id":"r25","d":4605,"v":0.8},{"g":"decrese","id":"r25","d":4650,"v":0},
{"g":"decrese","id":"r26","d":0,"v":100},{"g":"decrese","id":"r26","d":530,"v":100},{"g":"decrese","id":"r26","d":693,"v":95},{"g":"decrese","id":"r26","d":888,"v":82},{"g":"decrese","id":"r26","d":1050,"v":68},{"g":"decrese","id":"r26","d":1180,"v":55},{"g":"decrese","id":"r26","d":1480,"v":44.8},{"g":"decrese","id":"r26","d":2000,"v":39},{"g":"decrese","id":"r26","d":2500,"v":34},{"g":"decrese","id":"r26","d":3000,"v":29},{"g":"decrese","id":"r26","d":3500,"v":25},{"g":"decrese","id":"r26","d":4000,"v":21},{"g":"decrese","id":"r26","d":4500,"v":16},{"g":"decrese","id":"r26","d":4605,"v":12},{"g":"decrese","id":"r26","d":4710,"v":4.8},{"g":"decrese","id":"r26","d":4798,"v":1},{"g":"decrese","id":"r26","d":4850,"v":0}
]},
"data":{"name":"c"},
"layer":[
{"mark":{"type":"line","interpolate":"monotone","strokeWidth":1.1},
"encoding":{
"x":{"field":"d","type":"quantitative","scale":{"domain":[0,5000],"nice":false,"zero":false},"axis":{"orient":"bottom","values":[0,1000,2000,3000,4000,5000],"format":"d","labelPadding":10,"titlePadding":11},"title":"DOSE(cGy)"},
"y":{"field":"v","type":"quantitative","scale":{"domain":[0,100],"nice":false},"axis":{"orient":"left","values":[0,10,20,30,40,50,60,70,80,90,100],"labelPadding":9,"titlePadding":18},"title":"VOLUME(%)"},
"color":{"field":"g","type":"nominal","scale":{"domain":["decrese","non-decrease"],"range":["#f01010","#10e010"]},"legend":{"orient":"none","legendX":284,"legendY":15,"title":null,"symbolType":"M-8.2,0H8.2","symbolSize":100,"symbolStrokeWidth":1.3,"symbolOffset":37,"labelFontSize":22,"labelFont":"Liberation Sans","labelColor":"#000","labelOffset":39,"strokeColor":"#000","fillColor":"#fff","padding":8,"rowPadding":6}},
"detail":{"field":"id"}}},
{"mark":{"type":"line","opacity":0},
"encoding":{
"x":{"field":"d","type":"quantitative","axis":{"orient":"top","values":[0,1000,2000,3000,4000,5000],"labels":false,"title":null}},
"y":{"field":"v","type":"quantitative","axis":{"orient":"right","values":[0,10,20,30,40,50,60,70,80,90,100],"labels":false,"title":null}},
"detail":{"field":"id"}}}
],
"resolve":{"axis":{"x":"independent","y":"independent"}}
}
